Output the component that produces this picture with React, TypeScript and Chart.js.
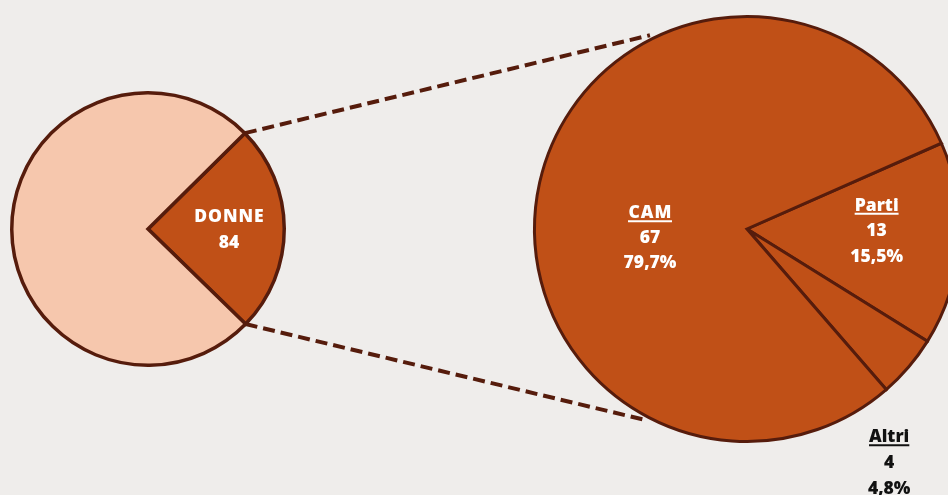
import { useEffect, useRef } from 'react';
import { Chart, registerables } from 'chart.js';

Chart.register(...registerables);

// ---- data ----
const leftCategories = ['DONNE', ''];
const leftValues = [84, 256];
const leftValueLabels = ['84', ''];

const rightCategories = ['Parti', 'Altri', 'CAM'];
const rightValues = [13, 4, 67];
const rightPercentLabels = ['15,5%', '4,8%', '79,7%'];

// ---- style ----
const BG = '#EFEDEB';
const DARK = '#C05017';
const LIGHT = '#F6C7AD';
const BORDER = '#561C0C';
const FONT = "800 17.5px 'Open Sans'";
const CAP = 12.6;

type Placement = { angle: number; r: number; color: string; underline: boolean; show: boolean; lh: number };

const leftPlacement: Placement[] = [
  { angle: 0, r: 0.594, color: '#FFFFFF', underline: false, show: true, lh: 26 },
  { angle: 0, r: 0, color: '#FFFFFF', underline: false, show: false, lh: 26 },
];
const rightPlacement: Placement[] = [
  { angle: 0.4, r: 0.61, color: '#FFFFFF', underline: true, show: true, lh: 25.5 },
  { angle: 58.6, r: 1.284, color: '#111111', underline: true, show: true, lh: 26 },
  { angle: 175.3, r: 0.458, color: '#FFFFFF', underline: true, show: true, lh: 25 },
];
const connectorEndAngles = [-116.6, 118.4];

const rad = (d: number) => (d * Math.PI) / 180;

function labelPlugin(id: string, lines: string[][], placement: Placement[]) {
  return {
    id,
    afterDatasetsDraw(chart: any) {
      const ctx = chart.ctx as CanvasRenderingContext2D;
      const meta = chart.getDatasetMeta(0);
      meta.data.forEach((arc: any, i: number) => {
        const p = placement[i];
        if (!p || !p.show) return;
        const { x, y, outerRadius } = arc.getProps(['x', 'y', 'outerRadius'], true);
        const cx = x + Math.cos(rad(p.angle)) * p.r * outerRadius;
        const cy = y + Math.sin(rad(p.angle)) * p.r * outerRadius;
        const ls = lines[i].filter((t) => t !== '');
        ctx.save();
        ctx.font = FONT;
        ctx.fillStyle = p.color;
        ctx.strokeStyle = p.color;
        ctx.textAlign = 'center';
        ctx.textBaseline = 'alphabetic';
        const top = cy - ((ls.length - 1) * p.lh) / 2;
        ls.forEach((t, k) => {
          const baseline = top + k * p.lh + CAP / 2;
          const isTitle = k === 0;
          const caps = isTitle && t === t.toUpperCase();
          (ctx as any).letterSpacing = caps ? '1px' : '0px';
          ctx.fillText(t, cx + (caps ? 0.5 : 0), baseline);
          if (isTitle && p.underline) {
            const w = ctx.measureText(t).width;
            ctx.lineWidth = 2;
            ctx.beginPath();
            ctx.moveTo(cx - w / 2, baseline + 3);
            ctx.lineTo(cx + w / 2, baseline + 3);
            ctx.stroke();
          }
        });
        ctx.restore();
      });
    },
  };
}

export default function App() {
  const leftRef = useRef<HTMLCanvasElement>(null);
  const rightRef = useRef<HTMLCanvasElement>(null);

  useEffect(() => {
    if (!leftRef.current || !rightRef.current) return;

    const leftChart = new Chart(leftRef.current, {
      type: 'pie',
      data: {
        labels: leftCategories,
        datasets: [
          {
            data: leftValues,
            backgroundColor: [DARK, LIGHT],
            borderColor: BORDER,
            borderWidth: 3.5,
            borderJoinStyle: 'miter',
          } as any,
        ],
      },
      options: {
        responsive: false,
        animation: false,
        events: [],
        rotation: 45.3,
        layout: { padding: { left: 10, top: 91, right: 662, bottom: 128 } },
        plugins: { legend: { display: false }, tooltip: { enabled: false } },
      },
      plugins: [
        labelPlugin(
          'leftLabels',
          leftCategories.map((c, i) => [c, leftValueLabels[i]]),
          leftPlacement,
        ),
      ],
    });

    const connectorPlugin = {
      id: 'connectors',
      beforeDatasetsDraw(chart: any) {
        const la: any = leftChart.getDatasetMeta(0).data[0];
        const ra: any = chart.getDatasetMeta(0).data[0];
        if (!la || !ra) return;
        const L = la.getProps(['x', 'y', 'startAngle', 'endAngle', 'outerRadius'], true);
        const R = ra.getProps(['x', 'y', 'outerRadius'], true);
        const starts = [L.startAngle, L.endAngle];
        const ctx = chart.ctx as CanvasRenderingContext2D;
        ctx.save();
        ctx.strokeStyle = BORDER;
        ctx.lineWidth = 4;
        ctx.setLineDash([12, 6]);
        starts.forEach((a: number, i: number) => {
          const sx = L.x + Math.cos(a) * L.outerRadius;
          const sy = L.y + Math.sin(a) * L.outerRadius;
          const e = rad(connectorEndAngles[i]);
          const ex = R.x + Math.cos(e) * R.outerRadius * 1.02;
          const ey = R.y + Math.sin(e) * R.outerRadius * 1.02;
          ctx.beginPath();
          ctx.moveTo(sx, sy);
          ctx.lineTo(ex, ey);
          ctx.stroke();
        });
        ctx.restore();
      },
    };

    const rightChart = new Chart(rightRef.current, {
      type: 'pie',
      data: {
        labels: rightCategories,
        datasets: [
          {
            data: rightValues,
            backgroundColor: DARK,
            borderColor: BORDER,
            borderWidth: 3,
            borderJoinStyle: 'miter',
          } as any,
        ],
      },
      options: {
        responsive: false,
        animation: false,
        events: [],
        rotation: 66.2,
        layout: { padding: { left: 533, top: 15, right: 9, bottom: 52 } },
        plugins: { legend: { display: false }, tooltip: { enabled: false } },
      },
      plugins: [
        connectorPlugin,
        labelPlugin(
          'rightLabels',
          rightCategories.map((c, i) => [c, String(rightValues[i]), rightPercentLabels[i]]),
          rightPlacement,
        ),
      ],
    });

    return () => {
      leftChart.destroy();
      rightChart.destroy();
    };
  }, []);

  return (
    <div
      style={{
        position: 'fixed',
        left: 0,
        top: 0,
        width: 948,
        height: 495,
        overflow: 'hidden',
        background: BG,
      }}
    >
      <canvas
        ref={leftRef}
        width={948}
        height={495}
        style={{ position: 'absolute', left: 0, top: 0, width: 948, height: 495 }}
      />
      <canvas
        ref={rightRef}
        width={970}
        height={495}
        style={{ position: 'absolute', left: 0, top: 0, width: 970, height: 495 }}
      />
    </div>
  );
}
